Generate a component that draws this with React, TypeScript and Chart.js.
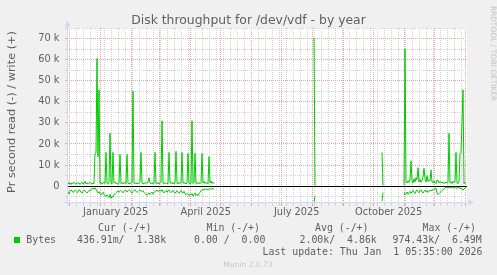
import { useEffect, useRef } from 'react';
import { Chart, registerables } from 'chart.js';

Chart.register(...registerables);

// ---------- time frame ----------
const START_UTC = Date.UTC(2024, 10, 28, 7); // day 0 of the x axis
const DAY_MS = 86400000;
const RANGE_DAYS = 400;

// ---------- data (k bytes / s), one value per day ----------
// segment 1: days 0..147
const seg1Start = 0;
const writeSeg1 = [
  1.2, 1.8, 1.0, 1.5, 0.8, 1.6, 1.1, 1.9, 1.3, 0.9,
  1.7, 1.2, 1.5, 0.8, 1.4, 1.9, 1.0, 1.3, 2.3, 1.1,
  1.6, 0.9, 1.4, 1.8, 1.2, 1.0, 1.5, 1.1,
  15.5, 15.8, 60.5, 14.0, 45.7, 1.2,
  1.8, 1.0, 1.4, 2.0, 1.2,
  16.0,
  1.3, 0.9, 1.5,
  25.0,
  1.6, 1.0,
  16.0,
  1.4, 1.9, 1.1, 1.5, 0.8, 1.3,
  15.0,
  1.2, 1.7, 1.0, 1.5, 1.9, 1.1,
  15.0,
  1.4, 1.0, 1.6, 1.2, 1.8,
  45.0,
  1.3, 1.1, 1.7, 1.0, 1.5, 1.2, 1.9,
  16.0,
  1.4, 1.0, 1.6, 1.2, 1.8, 1.3, 2.0,
  4.0,
  1.5, 1.1, 1.7, 1.0, 1.4,
  16.0,
  1.2, 1.8, 1.0, 1.5, 1.3, 1.9,
  31.0,
  1.4, 1.0, 1.7, 1.2, 1.5, 1.1,
  16.0,
  1.6, 1.2, 1.9, 1.0, 1.4, 1.3,
  16.5,
  1.5, 1.0, 1.8, 1.2, 1.6,
  16.0,
  1.3, 1.9, 1.1, 1.5, 1.2,
  15.5,
  1.6, 1.0, 1.4,
  31.0,
  1.2, 1.7,
  15.5,
  1.3, 1.0, 1.8, 1.4, 1.1, 1.6,
  15.5,
  1.5, 2.2, 1.2, 1.8, 1.4, 1.0,
  14.0,
  1.6, 2.5, 1.3, 1.9, 1.2,
];
const readSeg1 = [
  -1.6, -2.8, -3.7, -2.5, -1.8, -2.2, -3.0, -2.6, -1.9, -2.4,
  -3.1, -2.7, -1.7, -2.0, -2.9, -3.4, -2.5, -1.9, -2.3, -2.8,
  -3.3, -2.6, -2.0, -2.4, -1.5, -1.2, -0.9, -1.4,
  -0.8, -1.6, -2.5, -3.2, -2.6, -3.8,
  -4.2, -3.5, -2.9, -3.9, -4.6, -5.0, -4.1, -4.8, -5.4, -3.9,
  -5.8, -4.9, -5.3, -4.0, -3.6, -3.1, -2.7, -2.2, -2.9, -2.5,
  -2.0, -2.6, -3.2, -2.4, -1.9, -2.3, -2.8, -2.1, -1.6, -2.2,
  -2.7, -3.3, -2.5, -2.0, -1.7, -2.4, -3.0, -2.6, -2.1, -1.8,
  -2.3, -2.6, -2.1, -2.9, -3.5, -3.9, -4.3, -3.6, -3.2, -4.0,
  -3.4, -2.8, -3.7, -3.1, -2.5, -2.2, -1.8, -2.6, -2.3, -1.9,
  -2.4, -1.7, -2.8, -3.2, -2.5, -2.0, -2.9, -2.3, -1.8, -2.6,
  -3.1, -2.4, -2.0, -2.8, -3.4, -2.6, -2.2, -3.0, -3.5, -2.7,
  -2.1, -2.9, -3.3, -2.5, -3.6, -4.1, -3.4, -3.9, -4.5, -3.7,
  -4.2, -3.5, -4.8, -4.0, -3.3, -4.4, -3.8, -4.6, -3.6, -2.9,
  -2.2, -1.6, -1.9, -1.4, -1.7, -1.2, -1.5, -1.8, -1.3, -1.1, -1.6, -1.0, -1.4, -1.2,
];

// isolated samples in summer and autumn
const julStart = 247;
const writeJul = [70.3, 0.2];
const readJul = [-7.5, -4.8];
const octStart = 315;
const writeOct = [16.0, 0.3];
const readOct = [-7.0, -3.0];

// segment 3: days 337..399
const seg3Start = 337;
const writeSeg3 = [
  0.5, 65.0,
  2.0, 1.5, 2.5, 1.8, 3.0,
  12.0,
  2.5, 1.5, 3.5, 2.0, 4.0, 3.0,
  8.7,
  2.0, 3.2, 1.8, 2.5, 4.2,
  8.5,
  3.5, 2.0, 5.0, 2.2, 3.0, 2.5,
  7.7,
  2.0, 1.5, 2.5, 1.8, 1.2, 3.0, 2.8, 1.5, 2.2, 1.8, 1.5, 2.0, 1.2, 1.6, 2.0, 1.4, 1.8,
  25.0,
  1.5, 2.0, 1.2, 2.4, 1.6, 2.0,
  16.0,
  1.5, 1.2, 2.0,
  15.5, 16.0, 30.0, 45.7,
  1.0, 1.8, 1.4,
];
const readSeg3 = [
  -3.0, -4.2, -3.6, -2.8, -3.9, -3.2, -2.5, -3.4, -2.7, -2.0,
  -2.9, -3.5, -2.4, -1.8, -2.6, -3.1, -2.2, -1.7, -2.8, -3.3,
  -2.5, -1.9, -2.7, -2.1, -3.0, -2.4, -1.8, -2.3, -1.6, -2.0,
  -1.5, -1.2, -0.9, -3.2, -4.0, -3.5, -3.0, -2.6, -2.1, -1.7,
  -1.3, -0.9, -0.5, -0.7, -0.4, -0.8, -0.6, -1.0, -0.5, -0.7,
  -0.9, -0.6, -1.1, -0.7, -0.5, -0.9, -1.2, -0.8, -1.5, -1.9,
  -1.4, -0.9, -0.44,
];

// ---------- axes / text ----------
const yTickK = [-5, 0, 5, 10, 15, 20, 25, 30, 35, 40, 45, 50, 55, 60, 65, 70, 75];
const xLabelMonths: [number, number][] = [[2025, 0], [2025, 3], [2025, 6], [2025, 9]];
const xLabelTexts = ['January 2025', 'April 2025', 'July 2025', 'October 2025'];
const titleText = 'Disk throughput for /dev/vdf - by year';
const yTitleText = 'Pr second read (-) / write (+)';
const sideText = 'RRDTOOL / TOBI OETIKER';
const legendHeaders = ['Cur (-/+)', 'Min (-/+)', 'Avg (-/+)', 'Max (-/+)'];
const legendName = 'Bytes';
const legendValues = ['436.91m/  1.38k', '0.00 /  0.00', '2.00k/  4.86k', '974.43k/  6.49M'];
const lastUpdate = 'Last update: Thu Jan  1 05:35:00 2026';
const versionText = 'Munin 2.0.73';

// ---------- styling ----------
const GREEN = '#00CC00';
const MAJOR = '#E6A3A3';
const MINOR = '#D2D2D2';
const AXIS = '#CFD6F8';
const FONT = '#606060';
const CLEAR = 'rgba(0,0,0,0)';

const dayOf = (y: number, m: number, d: number) => (Date.UTC(y, m, d) - START_UTC) / DAY_MS;

type XTick = { value: number; kind: 'month' | 'week' | 'label'; text: string };
function buildXTicks(): XTick[] {
  const list: XTick[] = [];
  const months: number[] = [];
  for (let i = 0; i < 14; i++) {
    const y = 2024 + Math.floor((11 + i) / 12);
    const m = (11 + i) % 12;
    const v = dayOf(y, m, 1);
    if (v > 0 && v < RANGE_DAYS) {
      months.push(v);
      list.push({ value: v, kind: 'month', text: '' });
    }
  }
  for (let v = dayOf(2024, 11, 1); v < RANGE_DAYS; v += 7) {
    if (v > 0 && !months.some((mv) => Math.abs(mv - v) < 0.5)) list.push({ value: v, kind: 'week', text: '' });
  }
  xLabelMonths.forEach(([y, m], i) => list.push({ value: dayOf(y, m, 16), kind: 'label', text: xLabelTexts[i] }));
  list.sort((a, b) => a.value - b.value);
  return list;
}

function points(start: number, arr: number[]) {
  return arr.map((v, i) => ({ x: start + i, y: v * 1000 }));
}
const gap = (x: number) => ({ x, y: null as any });

export default function App() {
  const ref = useRef<HTMLCanvasElement | null>(null);

  useEffect(() => {
    if (!ref.current) return;
    const xTicks = buildXTicks();

    const writePts = [
      ...points(seg1Start, writeSeg1), gap(seg1Start + writeSeg1.length),
      ...points(julStart, writeJul), gap(julStart + writeJul.length),
      ...points(octStart, writeOct), gap(octStart + writeOct.length),
      ...points(seg3Start, writeSeg3),
    ];
    const readPts = [
      ...points(seg1Start, readSeg1), gap(seg1Start + readSeg1.length),
      ...points(julStart, readJul), gap(julStart + readJul.length),
      ...points(octStart, readOct), gap(octStart + readOct.length),
      ...points(seg3Start, readSeg3),
    ];

    const bgPlugin = {
      id: 'muninBg',
      beforeDraw(chart: any) {
        const { ctx, chartArea } = chart;
        ctx.save();
        ctx.fillStyle = '#F0F0F0';
        ctx.fillRect(0, 0, chart.width, chart.height);
        ctx.fillStyle = '#FFFFFF';
        ctx.fillRect(chartArea.left, chartArea.top, chartArea.right - chartArea.left, chartArea.bottom - chartArea.top);
        ctx.restore();
      },
    };

    const overlayPlugin = {
      id: 'muninOverlay',
      afterDatasetsDraw(chart: any) {
        const { ctx, chartArea, scales } = chart;
        const y0 = Math.floor(scales.y.getPixelForValue(0)) + 0.5;
        ctx.save();
        ctx.strokeStyle = '#000000';
        ctx.lineWidth = 1;
        ctx.beginPath();
        ctx.moveTo(chartArea.left, y0);
        ctx.lineTo(chartArea.right, y0);
        ctx.stroke();
        ctx.restore();
      },
      afterDraw(chart: any) {
        const { ctx, chartArea } = chart;
        const L = chartArea.left + 0.5;
        const B = chartArea.bottom - 0.5;
        ctx.save();
        // axes
        ctx.strokeStyle = AXIS;
        ctx.fillStyle = AXIS;
        ctx.lineWidth = 1;
        ctx.beginPath();
        ctx.moveTo(L, chartArea.bottom + 2);
        ctx.lineTo(L, chartArea.top - 2);
        ctx.moveTo(chartArea.left - 3, B);
        ctx.lineTo(chartArea.right + 2, B);
        ctx.stroke();
        ctx.beginPath();
        ctx.moveTo(L, chartArea.top - 7);
        ctx.lineTo(L - 3, chartArea.top - 1.5);
        ctx.lineTo(L + 3, chartArea.top - 1.5);
        ctx.closePath();
        ctx.fill();
        ctx.beginPath();
        ctx.moveTo(chartArea.right + 7, B);
        ctx.lineTo(chartArea.right + 1.5, B - 3);
        ctx.lineTo(chartArea.right + 1.5, B + 3);
        ctx.closePath();
        ctx.fill();

        // title
        ctx.fillStyle = FONT;
        ctx.textBaseline = 'alphabetic';
        ctx.textAlign = 'center';
        ctx.font = '12.4px "DejaVu Sans"';
        ctx.fillText(titleText, 248.5, 24);

        // y title
        ctx.save();
        ctx.translate(15, 112);
        ctx.rotate(-Math.PI / 2);
        ctx.font = '11.3px "DejaVu Sans"';
        ctx.fillText(yTitleText, 0, 0);
        ctx.restore();

        // side watermark
        ctx.save();
        ctx.translate(490.5, 53.5);
        ctx.rotate(Math.PI / 2);
        ctx.fillStyle = '#C2C2C2';
        ctx.font = '7.4px "DejaVu Sans"';
        ctx.fillText(sideText, 0, 0);
        ctx.restore();

        // legend
        ctx.textAlign = 'left';
        ctx.font = '9.9px "DejaVu Sans Mono"';
        const headerX = [98, 206.5, 315, 422.5];
        legendHeaders.forEach((t, i) => ctx.fillText(t, headerX[i], 230.5));
        ctx.fillStyle = GREEN;
        ctx.fillRect(14, 237, 6, 6);
        ctx.fillStyle = FONT;
        ctx.fillText(legendName, 26.3, 242.7);
        const valueX = [77, 194, 299.5, 392.5];
        legendValues.forEach((t, i) => ctx.fillText(t, valueX[i], 242.7));
        ctx.textAlign = 'right';
        ctx.fillText(lastUpdate, 482.5, 255);

        ctx.textAlign = 'center';
        ctx.fillStyle = '#C8C8C8';
        ctx.font = '7.5px "DejaVu Sans"';
        ctx.fillText(versionText, 248, 266.7);
        ctx.restore();
      },
    };

    const lineStyle = {
      borderColor: GREEN,
      backgroundColor: GREEN,
      borderWidth: 1,
      pointRadius: 0,
      fill: false,
      spanGaps: false,
      tension: 0,
    };

    const chart = new Chart(ref.current, {
      type: 'line',
      data: {
        datasets: [
          { label: 'write', data: writePts as any, ...lineStyle },
          { label: 'read', data: readPts as any, ...lineStyle },
        ],
      },
      options: {
        animation: false,
        responsive: false,
        maintainAspectRatio: false,
        events: [],
        layout: { padding: { left: 0, top: 28, right: 30, bottom: 0 } },
        plugins: { legend: { display: false }, title: { display: false }, tooltip: { enabled: false } },
        scales: {
          x: {
            type: 'linear',
            min: 0,
            max: RANGE_DAYS,
            afterFit: (s: any) => { s.height = 72; },
            afterBuildTicks: (s: any) => { s.ticks = xTicks.map((t) => ({ value: t.value })); },
            grid: {
              color: (c: any) => {
                const t = xTicks[c.index];
                if (!t) return CLEAR;
                return t.kind === 'month' ? MAJOR : t.kind === 'week' ? MINOR : CLEAR;
              },
              tickColor: (c: any) => {
                const t = xTicks[c.index];
                if (!t) return CLEAR;
                return t.kind === 'month' ? MAJOR : t.kind === 'week' ? MINOR : CLEAR;
              },
              tickLength: 3,
              lineWidth: 1,
            },
            border: { display: false, dash: [1, 1] },
            ticks: {
              autoSkip: false,
              maxRotation: 0,
              minRotation: 0,
              padding: 1,
              color: FONT,
              font: { family: 'DejaVu Sans', size: 9.8 },
              callback: (_v: any, i: number) => (xTicks[i] ? xTicks[i].text : ''),
            },
          },
          y: {
            type: 'linear',
            min: -8000,
            max: 75000,
            afterFit: (s: any) => { s.width = 67; },
            afterBuildTicks: (s: any) => { s.ticks = yTickK.map((k) => ({ value: k * 1000 })); },
            grid: {
              color: (c: any) => {
                const v = c.tick ? c.tick.value : NaN;
                if (v === 0) return CLEAR;
                return v % 10000 === 0 ? MAJOR : MINOR;
              },
              tickLength: 2,
              lineWidth: 1,
            },
            border: { display: false, dash: [1, 1] },
            ticks: {
              autoSkip: false,
              padding: 5.5,
              color: FONT,
              font: { family: 'DejaVu Sans', size: 9.8 },
              callback: (v: any) => {
                const n = Number(v);
                if (n % 10000 !== 0 || n < 0) return '';
                return n === 0 ? '0' : `${n / 1000} k`;
              },
            },
          },
        },
      },
      plugins: [bgPlugin, overlayPlugin],
    });

    return () => chart.destroy();
  }, []);

  return (
    <div style={{ position: 'absolute', left: 0, top: 0, width: 497, height: 275, background: '#F0F0F0' }}>
      <canvas ref={ref} width={497} height={275} style={{ display: 'block', width: 497, height: 275 }} />
    </div>
  );
}
